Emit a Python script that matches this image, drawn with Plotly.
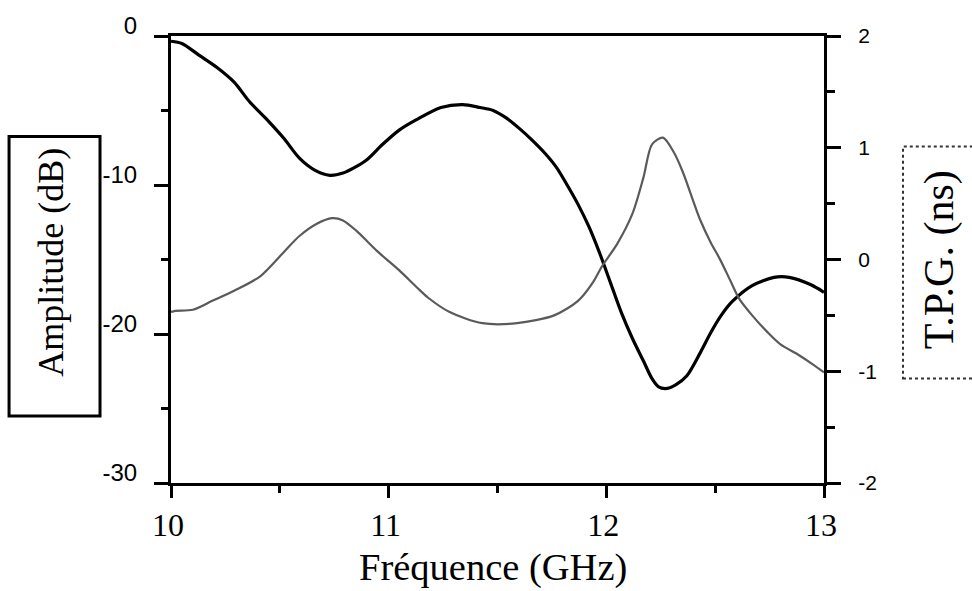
import plotly.graph_objects as go

# Amplitude curve (left axis, dB)
freq_amp = [10.00, 10.05, 10.13, 10.21, 10.29, 10.36, 10.44, 10.52, 10.59, 10.66,
            10.73, 10.79, 10.84, 10.90, 10.97, 11.05, 11.13, 11.24, 11.34, 11.42,
            11.48, 11.54, 11.60, 11.66, 11.72, 11.77, 11.82, 11.87, 11.92, 11.97,
            12.02, 12.07, 12.12, 12.17, 12.21, 12.24, 12.28, 12.32, 12.37, 12.43,
            12.48, 12.53, 12.58, 12.67, 12.77, 12.84, 12.94, 13.00]
amp_db = [-0.35, -0.5, -1.3, -2.1, -3.1, -4.4, -5.6, -6.9, -8.2, -9.0,
          -9.35, -9.2, -8.85, -8.3, -7.3, -6.3, -5.6, -4.8, -4.6, -4.8,
          -5.0, -5.5, -6.2, -7.0, -7.9, -8.8, -10.0, -11.3, -12.8, -14.6,
          -16.6, -18.6, -20.3, -21.8, -23.0, -23.55, -23.65, -23.4, -22.8, -21.3,
          -19.9, -18.7, -17.8, -16.75, -16.2, -16.2, -16.7, -17.2]

# Group delay curve (right axis, ns)
freq_tpg = [10.00, 10.02, 10.10, 10.19, 10.29, 10.41, 10.52, 10.59, 10.67, 10.74,
            10.79, 10.85, 10.95, 11.05, 11.13, 11.18, 11.28, 11.43, 11.59, 11.76,
            11.87, 11.94, 11.98, 12.05, 12.12, 12.17, 12.21, 12.26, 12.31, 12.35,
            12.43, 12.48, 12.52, 12.57, 12.61, 12.67, 12.74, 12.80, 12.88, 12.95, 13.00]
tpg_ns = [-0.47, -0.46, -0.45, -0.37, -0.28, -0.15, 0.07, 0.21, 0.32, 0.37,
          0.35, 0.26, 0.07, -0.10, -0.25, -0.34, -0.47, -0.57, -0.57, -0.50,
          -0.37, -0.20, -0.06, 0.14, 0.41, 0.73, 1.03, 1.09, 0.96, 0.79,
          0.36, 0.15, 0.01, -0.19, -0.35, -0.50, -0.65, -0.76, -0.85, -0.94, -1.01]

x_ticks = [10, 11, 12, 13]
x_labels = ["10", "11", "12", "13"]
y1_ticks = [0, -10, -20, -30]
y1_labels = ["0", "-10", "-20", "-30"]
y2_ticks = [2, 1, 0, -1, -2]
y2_labels = ["2", "1", "0", "-1", "-2"]

x_title = "Fréquence (GHz)"
y1_title = "Amplitude (dB)"
y2_title = "T.P.G. (ns)"

fig = go.Figure()
fig.add_trace(go.Scatter(x=freq_amp, y=amp_db, mode="lines", yaxis="y",
                         line=dict(color="black", width=3.2, shape="spline", smoothing=0.8)))
fig.add_trace(go.Scatter(x=freq_tpg, y=tpg_ns, mode="lines", yaxis="y2",
                         line=dict(color="#5a5a5a", width=2.2, shape="spline", smoothing=0.8)))

serif = "Liberation Serif"
sans = "Liberation Sans"

fig.update_layout(
    width=972, height=591,
    margin=dict(l=171, r=148, t=30, b=108),
    plot_bgcolor="white", paper_bgcolor="white",
    showlegend=False,
    xaxis=dict(range=[10, 13], tickmode="array", tickvals=x_ticks, ticktext=x_labels,
               ticks="outside", ticklen=12, tickwidth=3, tickcolor="black",
               showline=True, linewidth=3, linecolor="black", mirror=True,
               showgrid=False, zeroline=False,
               tickfont=dict(family=serif, size=32, color="black"),
               ticklabelstandoff=0, ticklabelshift=-3,
               minor=dict(tickmode="linear", tick0=10, dtick=0.5, ticks="outside",
                          ticklen=7, tickwidth=2.5, tickcolor="black", showgrid=False)),
    yaxis=dict(range=[-30, 0], tickmode="array", tickvals=y1_ticks, ticktext=y1_labels,
               ticks="outside", ticklen=14, tickwidth=3, tickcolor="black",
               showline=True, linewidth=3, linecolor="black",
               showgrid=False, zeroline=False,
               tickfont=dict(family=sans, size=24, color="black"),
               ticklabelstandoff=12, ticklabelshift=-10,
               minor=dict(tickmode="linear", tick0=0, dtick=5, ticks="outside",
                          ticklen=7, tickwidth=2.5, tickcolor="black", showgrid=False)),
    yaxis2=dict(range=[-2, 2], overlaying="y", side="right",
                tickmode="array", tickvals=y2_ticks, ticktext=y2_labels,
                ticks="outside", ticklen=14, tickwidth=3, tickcolor="black",
                showline=True, linewidth=3, linecolor="black",
                showgrid=False, zeroline=False,
                tickfont=dict(family=sans, size=21, color="black"),
                ticklabelstandoff=13,
                minor=dict(tickmode="linear", tick0=0, dtick=0.5, ticks="outside",
                           ticklen=8, tickwidth=2.5, tickcolor="black", showgrid=False)),
    shapes=[
        dict(type="rect", xref="paper", yref="paper", x0=-0.248, x1=-0.1087, y0=0.150, y1=0.775,
             line=dict(color="black", width=3), fillcolor="rgba(0,0,0,0)"),
        dict(type="rect", xref="paper", yref="paper", x0=1.121, x1=1.30, y0=0.234, y1=0.753,
             line=dict(color="#333333", width=2, dash="dot"), fillcolor="rgba(0,0,0,0)"),
    ],
    annotations=[
        dict(text=x_title, xref="paper", yref="paper", x=0.493, y=-0.19,
             xanchor="center", yanchor="middle", showarrow=False,
             font=dict(family=serif, size=38.5, color="black")),
        dict(text=y1_title, xref="paper", yref="paper", x=-0.184, y=0.4945,
             xanchor="center", yanchor="middle", showarrow=False, textangle=-90,
             font=dict(family=serif, size=36, color="black")),
        dict(text=y2_title, xref="paper", yref="paper", x=1.178, y=0.499,
             xanchor="center", yanchor="middle", showarrow=False, textangle=-90,
             font=dict(family=serif, size=42, color="black")),
    ],
)

fig.write_html("out.html", config={"displayModeBar": False},
               post_script="document.body.style.margin='0';document.body.style.overflow='hidden';")
